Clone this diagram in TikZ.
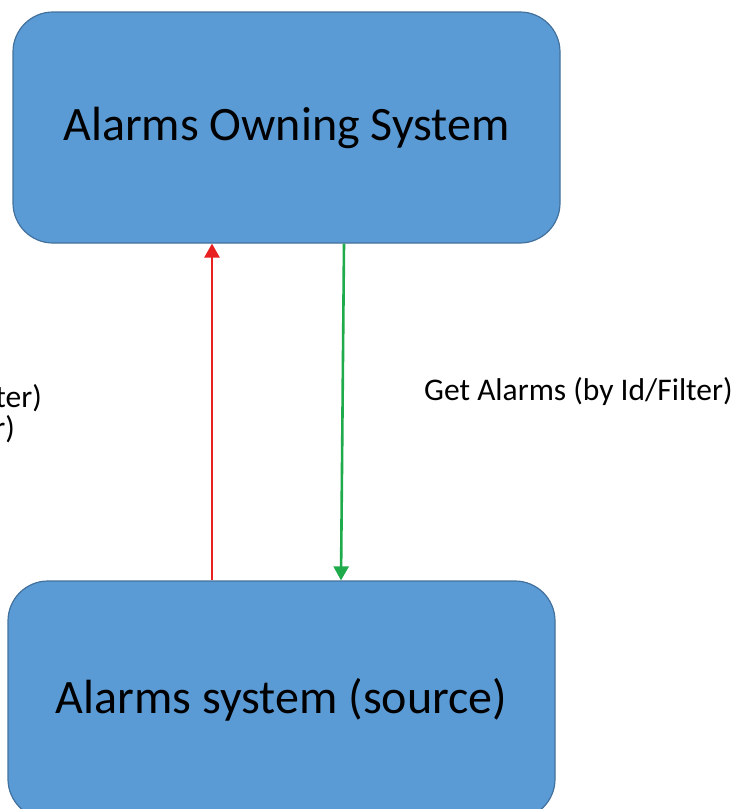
\documentclass[tikz,border=0pt]{standalone}
\usepackage{fontspec}
\setmainfont{Carlito}
\usetikzlibrary{arrows.meta}
\definecolor{boxfill}{HTML}{5B9BD5}
\definecolor{boxline}{HTML}{41719C}
\definecolor{arrred}{HTML}{E8201F}
\definecolor{arrgreen}{HTML}{1FAA4B}
\tikzset{
  sysbox/.style={draw=boxline, line width=1.2pt, fill=boxfill, rounded corners=40pt,
    minimum width=547pt, inner sep=0pt, font=\fontsize{48}{56}\selectfont, text=black},
  lbl/.style={font=\fontsize{31.5}{36}\selectfont, text=black, inner sep=0pt},
  flow/.style={line width=2.6pt, -{Triangle[length=14pt,width=15pt]}}
}
\begin{document}
\begin{tikzpicture}[x=1pt,y=-1pt]
\useasboundingbox (0,0) rectangle (739,809);
\clip (0,0) rectangle (739,809);
\node[sysbox, minimum height=231pt] (top) at (286.5,127.5) {Alarms Owning System};
\node[sysbox, minimum height=238pt] (bot) at (281.5,700) {Alarms system (source)};
\coordinate (r) at (212,0);
\coordinate (g1) at (344,0);
\coordinate (g2) at (341,0);
\draw[flow, arrred] (r |- bot.north) -- (r |- top.south);
\draw[flow, arrgreen] (g1 |- top.south) -- (g2 |- bot.north);
\node[lbl, anchor=west] (get) at (424,392) {Get Alarms (by Id/Filter)};
\node[lbl, anchor=east] (l1) at (42,398) {ter)};
\node[lbl, anchor=east] (l2) at (15,429) {r)};
\end{tikzpicture}
\end{document}
